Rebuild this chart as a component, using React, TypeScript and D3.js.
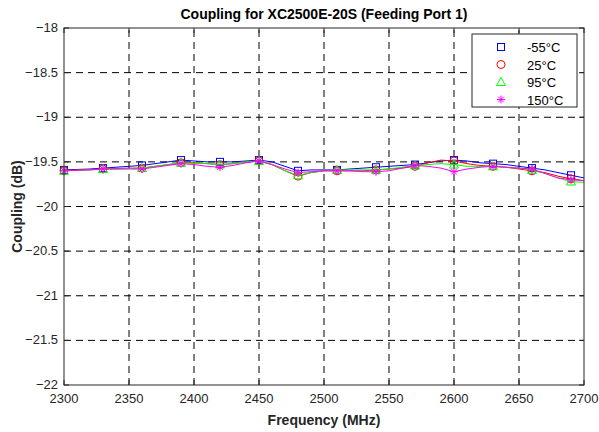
import React from "react";
import * as d3 from "d3";

const freqs = d3.range(2300, 2701, 10);

const minus55 = [
  -19.59, -19.585, -19.58, -19.57, -19.56, -19.55, -19.54, -19.52, -19.5, -19.48,
  -19.49, -19.5, -19.5, -19.5, -19.49, -19.48, -19.5, -19.55, -19.6, -19.59,
  -19.59, -19.59, -19.58, -19.57, -19.56, -19.55, -19.54, -19.53, -19.51, -19.49,
  -19.48, -19.49, -19.51, -19.52, -19.53, -19.55, -19.57, -19.59, -19.62, -19.65,
  -19.68,
];
const plus25 = [
  -19.6, -19.59, -19.585, -19.58, -19.575, -19.57, -19.57, -19.55, -19.53, -19.51,
  -19.51, -19.52, -19.53, -19.52, -19.5, -19.49, -19.53, -19.6, -19.66, -19.62,
  -19.6, -19.6, -19.6, -19.6, -19.59, -19.58, -19.57, -19.55, -19.51, -19.48,
  -19.49, -19.52, -19.54, -19.55, -19.56, -19.58, -19.6, -19.62, -19.66, -19.69,
  -19.71,
];
const plus95 = [
  -19.6, -19.595, -19.59, -19.58, -19.58, -19.575, -19.57, -19.55, -19.53, -19.51,
  -19.515, -19.52, -19.53, -19.52, -19.5, -19.49, -19.53, -19.6, -19.65, -19.62,
  -19.6, -19.59, -19.59, -19.59, -19.59, -19.58, -19.56, -19.54, -19.53, -19.52,
  -19.53, -19.55, -19.55, -19.55, -19.56, -19.57, -19.59, -19.63, -19.68, -19.72,
  -19.73,
];
const plus150 = [
  -19.6, -19.595, -19.59, -19.58, -19.58, -19.58, -19.58, -19.56, -19.54, -19.52,
  -19.53, -19.55, -19.56, -19.54, -19.51, -19.49, -19.53, -19.58, -19.62, -19.61,
  -19.6, -19.6, -19.6, -19.61, -19.61, -19.6, -19.57, -19.54, -19.55, -19.57,
  -19.61, -19.58, -19.56, -19.55, -19.56, -19.57, -19.58, -19.63, -19.68, -19.7,
  -19.71,
];

const seriesNames = ["-55°C", "25°C", "95°C", "150°C"];
const seriesColors = ["#0000ff", "#ff0000", "#00ff00", "#ff00ff"];
const seriesShapes = ["square", "circle", "triangle", "star"];
const allSeries = [minus55, plus25, plus95, plus150];

const xTicks = d3.range(2300, 2701, 50);
const yTicks = d3.range(-22, -17.9, 0.5);

const W = 599;
const H = 432;
const margin = { top: 28, right: 15, bottom: 47, left: 64 };
const font = "Liberation Sans, Arial, Helvetica, sans-serif";

function Marker({ shape, x, y, color }: { shape: string; x: number; y: number; color: string }) {
  if (shape === "square") {
    return <rect x={x - 3.5} y={y - 3.5} width={7} height={7} fill="none" stroke={color} strokeWidth={1} />;
  }
  if (shape === "circle") {
    return <circle cx={x} cy={y} r={4} fill="none" stroke={color} strokeWidth={1} />;
  }
  if (shape === "triangle") {
    return (
      <path
        d={`M${x},${y - 4.5}L${x + 4.5},${y + 3.5}L${x - 4.5},${y + 3.5}Z`}
        fill="none"
        stroke={color}
        strokeWidth={1}
      />
    );
  }
  const r = 4;
  const d = r * 0.707;
  return (
    <path
      d={`M${x - r},${y}L${x + r},${y}M${x},${y - r}L${x},${y + r}M${x - d},${y - d}L${x + d},${y + d}M${x - d},${y + d}L${x + d},${y - d}`}
      stroke={color}
      strokeWidth={1}
    />
  );
}

export default function App() {
  const x = d3.scaleLinear().domain([2300, 2700]).range([margin.left, W - margin.right]);
  const y = d3.scaleLinear().domain([-22, -18]).range([H - margin.bottom, margin.top]);

  const line = d3
    .line<number>()
    .x((_, i) => x(freqs[i]))
    .y((d) => y(d));

  const x0 = x.range()[0];
  const x1 = x.range()[1];
  const y0 = y.range()[0];
  const y1 = y.range()[1];

  const legX = 472;
  const legY = 34;

  return (
    <svg width={W} height={H} style={{ position: "absolute", left: 0, top: 0, background: "#fff" }}>
      <rect x={0} y={0} width={W} height={H} fill="#fff" />
      <rect x={x0} y={y1} width={x1 - x0} height={y0 - y1} fill="#fff" />

      {/* grid */}
      <g stroke="#000" strokeWidth={1} strokeDasharray="7,5">
        {xTicks.slice(1, -1).map((t) => (
          <line key={"gx" + t} x1={x(t)} x2={x(t)} y1={y0} y2={y1} />
        ))}
        {yTicks.slice(1, -1).map((t) => (
          <line key={"gy" + t} x1={x0} x2={x1} y1={y(t)} y2={y(t)} />
        ))}
      </g>

      {/* data */}
      <g clipPath="none">
        {allSeries.map((s, k) => (
          <g key={k}>
            <path d={line(s) || ""} fill="none" stroke={seriesColors[k]} strokeWidth={1} />
            {s.map((v, i) =>
              (freqs[i] - 2300) % 30 === 0 ? (
                <Marker key={i} shape={seriesShapes[k]} x={x(freqs[i])} y={y(v)} color={seriesColors[k]} />
              ) : null
            )}
          </g>
        ))}
      </g>

      {/* box and ticks */}
      <rect x={x0} y={y1} width={x1 - x0} height={y0 - y1} fill="none" stroke="#262626" strokeWidth={1} />
      <g stroke="#262626" strokeWidth={1}>
        {xTicks.map((t) => (
          <g key={"tx" + t}>
            <line x1={x(t)} x2={x(t)} y1={y0} y2={y0 - 5} />
            <line x1={x(t)} x2={x(t)} y1={y1} y2={y1 + 5} />
          </g>
        ))}
        {yTicks.map((t) => (
          <g key={"ty" + t}>
            <line x1={x0} x2={x0 + 5} y1={y(t)} y2={y(t)} />
            <line x1={x1} x2={x1 - 5} y1={y(t)} y2={y(t)} />
          </g>
        ))}
      </g>

      {/* tick labels */}
      <g fontFamily={font} fontSize={13} fill="#262626">
        {xTicks.map((t) => (
          <text key={"lx" + t} x={x(t)} y={y0 + 18} textAnchor="middle">
            {t}
          </text>
        ))}
        {yTicks.map((t) => (
          <text key={"ly" + t} x={x0 - 6} y={y(t) + 4} textAnchor="end">
            {d3.format("")(Math.round(t * 10) / 10)}
          </text>
        ))}
      </g>

      {/* titles */}
      <text x={(x0 + x1) / 2} y={19} textAnchor="middle" fontFamily={font} fontSize={14} fontWeight="bold" fill="#000">
        Coupling for XC2500E-20S (Feeding Port 1)
      </text>
      <text x={(x0 + x1) / 2} y={425} textAnchor="middle" fontFamily={font} fontSize={14} fontWeight="bold" fill="#262626">
        Frequency (MHz)
      </text>
      <text
        transform={`translate(22,${(y0 + y1) / 2}) rotate(-90)`}
        textAnchor="middle"
        fontFamily={font}
        fontSize={14}
        fontWeight="bold"
        fill="#262626"
      >
        Coupling (dB)
      </text>

      {/* legend */}
      <g>
        <rect x={legX} y={legY} width={105} height={73} fill="#fff" stroke="#262626" strokeWidth={1} />
        {seriesNames.map((n, k) => (
          <g key={n}>
            <Marker shape={seriesShapes[k]} x={legX + 29} y={legY + 13 + k * 17.5} color={seriesColors[k]} />
            <text x={legX + 55} y={legY + 18 + k * 17.5} fontFamily={font} fontSize={13} fill="#000">
              {n}
            </text>
          </g>
        ))}
      </g>
    </svg>
  );
}
